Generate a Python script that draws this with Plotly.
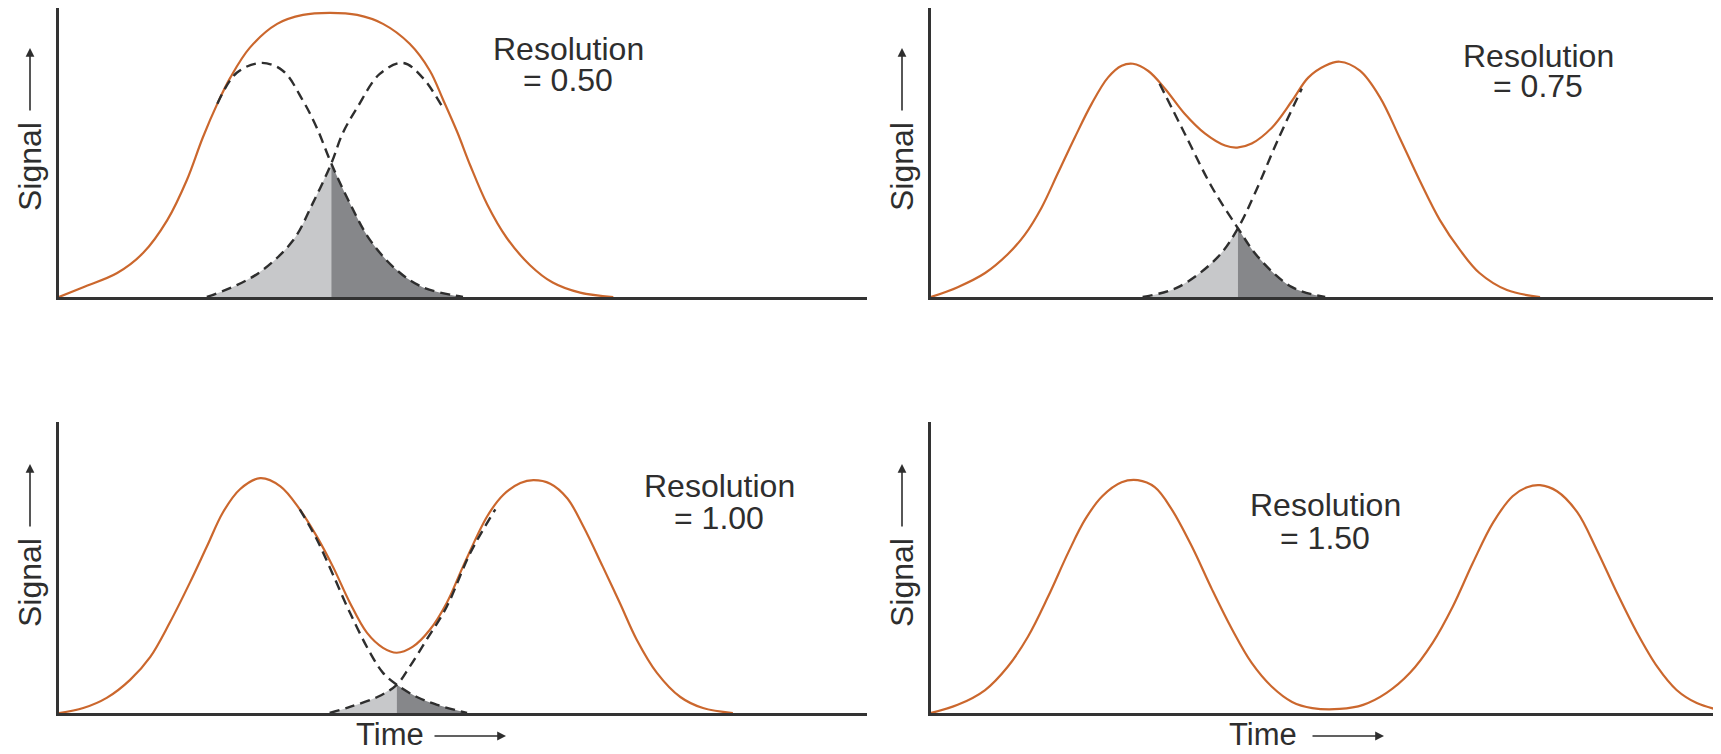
import plotly.graph_objects as go

# the page body adds an 8px margin, so the figure is made that much smaller
OFF = 8
W, H = 1721 - OFF, 754 - OFF


def px(x):
    return min(1.0, max(0.0, (x - OFF) / W))


def py(y):
    return min(1.0, max(0.0, 1 - (y - OFF) / H))


# values (time / signal in arbitrary units, baseline = 0)
res_labels = ["0.50", "0.75", "1.00", "1.50"]

# resolution 0.50 (top left)
r050_time = [0, 3.0, 7.2, 10.4, 13.4, 15.8, 17.8, 19.6, 21.2, 23.6, 27.0, 30.2, 33.5, 36.9,
             40.1, 43.4, 45.9, 47.5, 49.3, 50.9, 53.0, 55.4, 58.3, 61.1, 64.5, 68.6]
r050_signal = [0, 3.4, 8.3, 15.2, 26.6, 40.3, 55.2, 66.9, 75.9, 86.2, 94.5, 97.6, 98.3, 97.6,
               94.5, 87.6, 78.3, 68.5, 57.0, 45.5, 32.0, 20.5, 11.0, 5.0, 1.5, 0]
r050_a_time = [19.6, 22.0, 25.1, 27.7, 30.2, 31.9, 33.7, 36.0, 38.5, 41.8, 45.0, 50.0]
r050_a_signal = [66.9, 77.6, 81.0, 78.3, 67.9, 58.6, 46.2, 32.4, 19.7, 9.3, 3.4, 0]
r050_b_time = [18.3, 22.0, 25.2, 29.0, 31.4, 33.7, 35.1, 36.9, 39.7, 42.6, 45.0, 47.5]
r050_b_signal = [0, 4.1, 9.3, 19.7, 32.4, 46.2, 56.6, 65.5, 77.2, 81.0, 75.9, 65.5]

# resolution 0.75 (top right)
r075_time = [0, 3.3, 6.7, 9.5, 11.6, 13.7, 15.7, 17.8, 19.9, 21.9, 23.6, 25.0, 26.9, 29.0,
             31.4, 33.9, 36.4, 37.9, 39.7, 42.2, 44.7, 46.7, 48.8, 50.6, 53.1, 55.6, 58.0,
             60.5, 63.0, 65.5, 67.9, 71.3, 75.4]
r075_signal = [0, 3.4, 8.3, 14.8, 21.5, 31.0, 42.8, 55.2, 66.9, 75.9, 80.0, 80.7, 78.2, 72.0,
               63.4, 56.6, 52.4, 51.7, 53.1, 58.6, 67.9, 75.9, 80.0, 81.4, 78.3, 69.0, 55.2,
               40.3, 26.6, 16.2, 8.3, 2.4, 0]
r075_a_time = [28.3, 31.4, 34.8, 38.0, 40.5, 44.7, 48.8]
r075_a_signal = [73.8, 56.6, 37.9, 23.8, 13.8, 3.4, 0]
r075_b_time = [26.2, 30.6, 35.5, 38.0, 40.1, 42.9, 45.9]
r075_b_signal = [0, 3.4, 13.8, 23.8, 35.9, 54.1, 72.1]

# resolution 1.00 (bottom left)
r100_time = [0, 3.0, 5.9, 8.8, 11.3, 13.7, 16.2, 18.3, 20.3, 22.4, 24.9, 27.4, 29.8, 31.9,
             33.9, 36.0, 38.1, 40.1, 41.8, 43.8, 45.9, 48.0, 50.0, 53.0, 55.0, 57.1, 58.7,
             60.8, 62.9, 64.9, 67.3, 69.4, 71.5, 74.0, 76.9, 79.7, 83.4]
r100_signal = [0, 1.7, 5.2, 11.4, 19.3, 31.0, 44.8, 57.2, 69.0, 76.9, 80.7, 77.9, 70.0, 60.7,
               50.3, 37.9, 27.6, 22.4, 20.7, 22.8, 28.6, 37.9, 50.3, 67.6, 75.0, 79.0, 80.0,
               78.8, 73.8, 64.1, 50.3, 37.9, 25.2, 13.8, 5.5, 1.7, 0]
r100_a_time = [29.8, 31.9, 33.9, 36.0, 38.5, 40.1, 41.8, 44.3, 46.8, 50.5]
r100_a_signal = [70.0, 59.7, 47.6, 34.5, 20.7, 13.8, 9.7, 5.5, 2.8, 0]
r100_b_time = [33.5, 36.0, 39.4, 41.8, 43.4, 45.5, 48.0, 50.9, 54.0]
r100_b_signal = [0, 2.1, 5.5, 9.7, 15.9, 25.2, 36.6, 55.0, 70.0]

# resolution 1.50 (bottom right)
r150_time = [0, 3.3, 6.7, 9.5, 12.0, 14.5, 17.0, 19.1, 21.2, 23.6, 25.6, 27.7, 29.8, 32.3,
             34.8, 37.3, 39.7, 42.2, 44.7, 47.2, 50.6, 53.5, 56.4, 59.3, 62.1, 64.6, 67.1,
             69.6, 72.0, 73.8, 75.4, 77.5, 80.0, 82.4, 84.9, 87.4, 89.9, 92.3, 94.8, 97.6]
r150_signal = [0, 2.8, 7.9, 15.9, 26.2, 40.0, 55.2, 66.6, 74.5, 79.3, 80.0, 77.6, 70.0, 57.2,
               42.4, 28.6, 17.2, 9.0, 3.8, 1.7, 1.4, 2.8, 6.9, 13.8, 24.1, 36.6, 51.7,
               65.5, 74.5, 77.6, 78.3, 76.2, 69.0, 56.2, 41.4, 27.6, 15.9, 7.9, 3.4, 1.0]

# time where the two hidden peaks cross (split of the shaded overlap)
crossing_time = [33.7, 38.0, 41.8, None]

ORANGE = "#cb672d"
INK = "#2e2e2e"
LIGHT = "#c7c8ca"
DARK = "#86878a"

panels = [
    dict(t=r050_time, s=r050_signal, at=r050_a_time, as_=r050_a_signal, bt=r050_b_time, bs=r050_b_signal),
    dict(t=r075_time, s=r075_signal, at=r075_a_time, as_=r075_a_signal, bt=r075_b_time, bs=r075_b_signal),
    dict(t=r100_time, s=r100_signal, at=r100_a_time, as_=r100_a_signal, bt=r100_b_time, bs=r100_b_signal),
    dict(t=r150_time, s=r150_signal, at=None, as_=None, bt=None, bs=None),
]

fig = go.Figure()

for i, p in enumerate(panels):
    n = "" if i == 0 else str(i + 1)
    xa, ya = "x" + n, "y" + n
    cross = crossing_time[i]
    if cross is not None:
        # light: tail of the later peak left of the crossing; dark: tail of the earlier one right of it
        lt = [t for t in p["bt"] if t <= cross]
        ls = [s for t, s in zip(p["bt"], p["bs"]) if t <= cross]
        dt = [t for t in p["at"] if t >= cross]
        ds = [s for t, s in zip(p["at"], p["as_"]) if t >= cross]
        fig.add_trace(go.Scatter(x=lt, y=ls, mode="lines", fill="tozeroy", fillcolor=LIGHT,
                                 line=dict(width=0, shape="spline"), xaxis=xa, yaxis=ya))
        fig.add_trace(go.Scatter(x=dt, y=ds, mode="lines", fill="tozeroy", fillcolor=DARK,
                                 line=dict(width=0, shape="spline"), xaxis=xa, yaxis=ya))
    fig.add_trace(go.Scatter(x=p["t"], y=p["s"], mode="lines",
                             line=dict(color=ORANGE, width=2.2, shape="spline"), xaxis=xa, yaxis=ya))
    if p["at"] is not None:
        for kt, ks in (("at", "as_"), ("bt", "bs")):
            fig.add_trace(go.Scatter(x=p[kt], y=p[ks], mode="lines",
                                     line=dict(color=INK, width=2.4, dash="10px,6px", shape="spline"),
                                     xaxis=xa, yaxis=ya))

ax_style = dict(showline=True, linecolor="#333", linewidth=3, showgrid=False, zeroline=False,
                showticklabels=False, ticks="", fixedrange=True)

left_dom = [px(59), px(867)]
right_dom = [px(931), 1.0]
top_dom = [py(297), py(7)]
bot_dom = [py(713), py(422)]
doms = [(left_dom, top_dom), (right_dom, top_dom), (left_dom, bot_dom), (right_dom, bot_dom)]
xranges = [[0, 100], [0, 97.8], [0, 100], [0, 97.8]]

layout_axes = {}
for i, (dx, dy) in enumerate(doms):
    n = "" if i == 0 else str(i + 1)
    layout_axes["xaxis" + n] = dict(domain=dx, range=xranges[i], anchor="y" + n, **ax_style)
    layout_axes["yaxis" + n] = dict(domain=dy, range=[0, 100], anchor="x" + n, **ax_style)

FONT = "Liberation Sans, Arial, Helvetica, sans-serif"
annotations = []

# Resolution labels (two lines each, tight boxes so the lines sit close together)
res_pos = [(568, 48, 80), (1538, 55, 86), (719, 485, 517), (1325, 504, 537)]
for lab, (cx, y1, y2) in zip(res_labels, res_pos):
    for txt, yy in (("Resolution", y1), ("= " + lab, y2)):
        annotations.append(dict(text=txt, x=px(cx), y=py(yy), xref="paper", yref="paper",
                                showarrow=False, xanchor="center", yanchor="middle",
                                height=27, valign="middle", borderpad=0,
                                font=dict(family=FONT, size=32, color=INK)))

# Signal labels with up arrows
for sx, sy in [(30, 0), (902, 0), (30, 416), (902, 416)]:
    annotations.append(dict(text="Signal", x=px(sx), y=py(167 + sy), xref="paper", yref="paper",
                            showarrow=False, textangle=-90, xanchor="center", yanchor="middle",
                            font=dict(family=FONT, size=32, color=INK)))
    annotations.append(dict(text="", x=px(sx), y=py(48 + sy), xref="paper", yref="paper",
                            showarrow=True, ax=0, ay=64, arrowhead=2, arrowsize=1.1,
                            arrowwidth=1.6, arrowcolor=INK))

# Time labels with right arrows
for tx, hx in [(390, 506), (1263, 1384)]:
    annotations.append(dict(text="Time", x=px(tx), y=py(734), xref="paper", yref="paper",
                            showarrow=False, xanchor="center", yanchor="middle",
                            font=dict(family=FONT, size=31, color=INK)))
    annotations.append(dict(text="", x=px(hx), y=py(736), xref="paper", yref="paper",
                            showarrow=True, ax=-73, ay=0, arrowhead=2, arrowsize=1.1,
                            arrowwidth=1.6, arrowcolor=INK))

fig.update_layout(
    width=W, height=H,
    margin=dict(l=0, r=0, t=0, b=0),
    paper_bgcolor="white", plot_bgcolor="white",
    showlegend=False,
    annotations=annotations,
    **layout_axes,
)

fig.write_html("out.html")
